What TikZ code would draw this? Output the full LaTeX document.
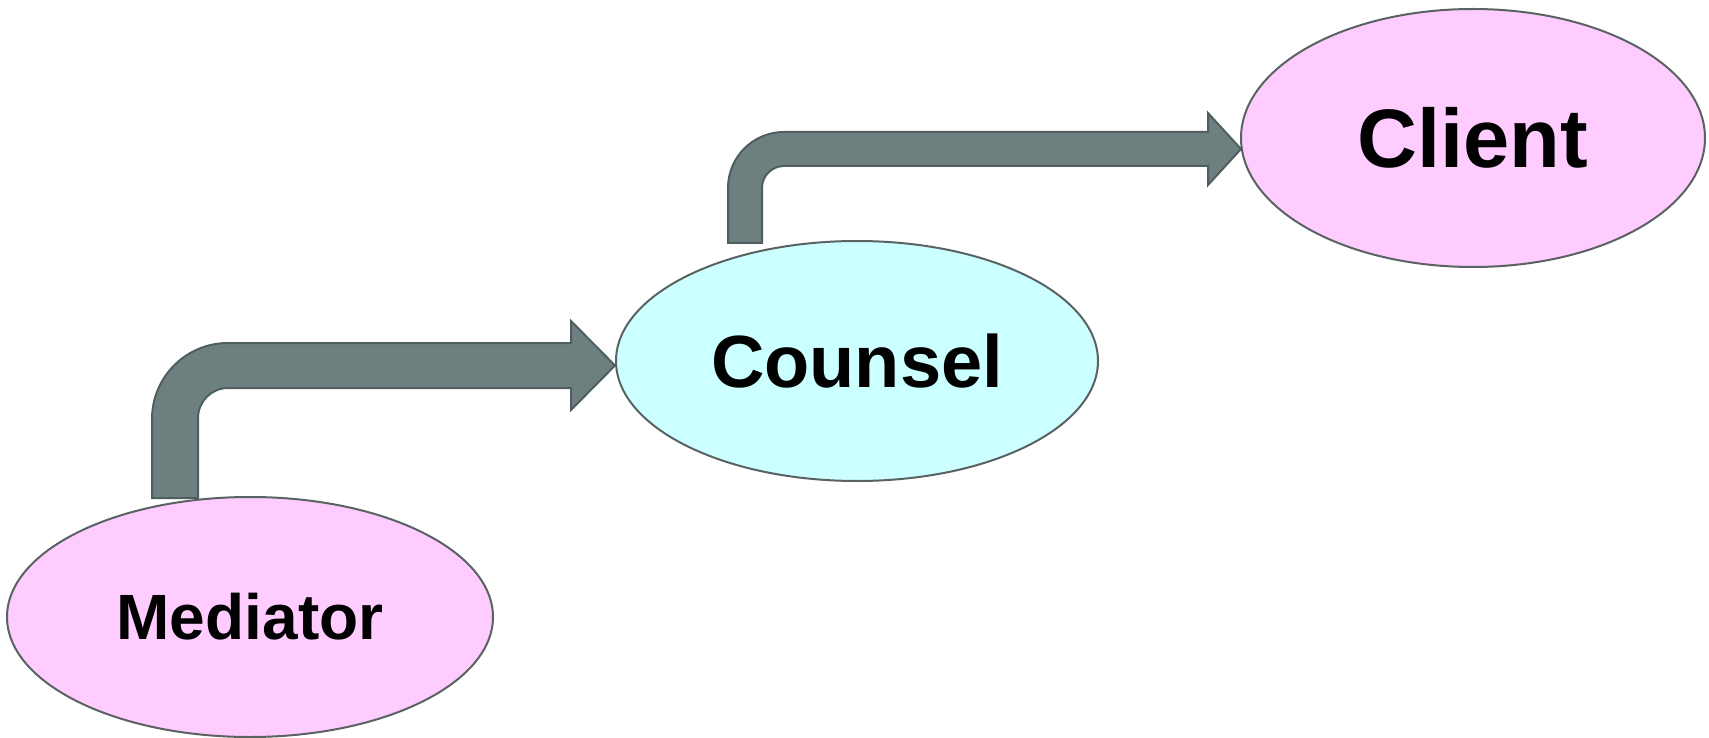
\documentclass[tikz,border=0pt]{standalone}
\usepackage{fontspec}
\setmainfont{Liberation Sans}
\usetikzlibrary{shapes.geometric}
\definecolor{pinkfill}{HTML}{FFCCFF}
\definecolor{cyanfill}{HTML}{CCFFFF}
\definecolor{edgegrey}{HTML}{5A6262}
\definecolor{arrowfill}{HTML}{6E7F80}
\definecolor{arrowedge}{HTML}{4F5E5F}
\tikzset{
  bubble/.style={ellipse, draw=edgegrey, line width=2pt, inner sep=0pt, font=\bfseries},
  blockarrow/.style={fill=arrowfill, draw=arrowedge, line width=2pt, line join=miter}
}
\begin{document}
\begin{tikzpicture}[x=1pt,y=-1pt]
\useasboundingbox (0,0) rectangle (1709,738);
\node[bubble, fill=pinkfill, minimum width=486pt, minimum height=240pt,
      font=\bfseries\fontsize{64}{70}\selectfont] (med) at (250,617) {Mediator};
\node[bubble, fill=cyanfill, minimum width=482pt, minimum height=240pt,
      font=\bfseries\fontsize{74}{80}\selectfont] (cou) at (857,361) {Counsel};
\node[bubble, fill=pinkfill, minimum width=464pt, minimum height=258pt,
      font=\bfseries\fontsize{83}{90}\selectfont] (cli) at (1473,138) {Client};
% arrow Mediator -> Counsel
\coordinate (a1s) at (175,498);
\coordinate (a1t) at (615,365.5);
\draw[blockarrow] (152,498) -- (152,419) arc[start angle=180, end angle=270, radius=76]
  -- (571,343) -- (571,321) -- (a1t) -- (571,410) -- (571,388) -- (228,388)
  arc[start angle=270, end angle=180, radius=30] -- (198,498) -- cycle;
% arrow Counsel -> Client
\coordinate (a2s) at (745,243);
\coordinate (a2t) at (1241,149);
\draw[blockarrow] (728,243) -- (728,188) arc[start angle=180, end angle=270, radius=56]
  -- (1208,132) -- (1208,113) -- (a2t) -- (1208,185) -- (1208,166) -- (784,166)
  arc[start angle=270, end angle=180, radius=22] -- (762,243) -- cycle;
\end{tikzpicture}
\end{document}
